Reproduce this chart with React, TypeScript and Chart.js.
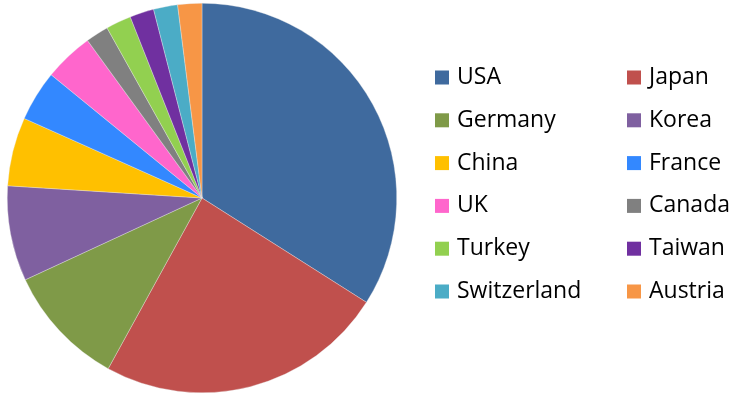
import React, { useEffect, useRef } from "react";
import { Chart, registerables } from "chart.js";

Chart.register(...registerables);

const categories = ["USA", "Japan", "Germany", "Korea", "China", "France", "UK", "Canada", "Turkey", "Taiwan", "Switzerland", "Austria"];
const shares = [34.0, 24.0, 10.1, 7.9, 5.7, 4.2, 4.1, 1.9, 2.1, 2.0, 2.0, 2.0];
const colors = ["#3F6A9E", "#C0504D", "#7F9A48", "#7F60A0", "#FFC000", "#3388FF", "#FF66CC", "#808080", "#92D050", "#7030A0", "#4BACC6", "#F79646"];

const legendPlugin = {
  id: "twoColLegend",
  afterDraw(chart: any) {
    const ctx = chart.ctx;
    const labels = chart.data.labels as string[];
    const bg = chart.data.datasets[0].backgroundColor as string[];
    const colX = [435, 627];
    const rowY0 = 77.5;
    const rowStep = 42.8;
    ctx.save();
    ctx.font = "23px 'Open Sans'";
    ctx.textBaseline = "middle";
    ctx.fillStyle = "#000";
    labels.forEach((lab, i) => {
      const col = i % 2;
      const row = Math.floor(i / 2);
      const x = colX[col];
      const y = rowY0 + row * rowStep;
      ctx.fillStyle = bg[i];
      ctx.fillRect(x, y - 7, 14, 14);
      ctx.fillStyle = "#000";
      ctx.fillText(lab, x + 22, y);
    });
    ctx.restore();
  },
};

export default function App() {
  const ref = useRef<HTMLCanvasElement>(null);
  useEffect(() => {
    if (!ref.current) return;
    const chart = new Chart(ref.current, {
      type: "pie",
      data: {
        labels: categories,
        datasets: [
          {
            data: shares,
            backgroundColor: colors,
            borderColor: "rgba(235,235,235,0.7)",
            borderWidth: 0.5,
          },
        ],
      },
      options: {
        responsive: false,
        animation: false,
        layout: { padding: { left: 7, right: 349, top: 3, bottom: 7 } },
        plugins: {
          legend: { display: false },
          tooltip: { enabled: false },
        },
      },
      plugins: [legendPlugin],
    });
    return () => chart.destroy();
  }, []);
  return (
    <div style={{ position: "fixed", left: 0, top: 0, width: 746, height: 400, background: "#fff" }}>
      <canvas ref={ref} width={746} height={400} />
    </div>
  );
}
